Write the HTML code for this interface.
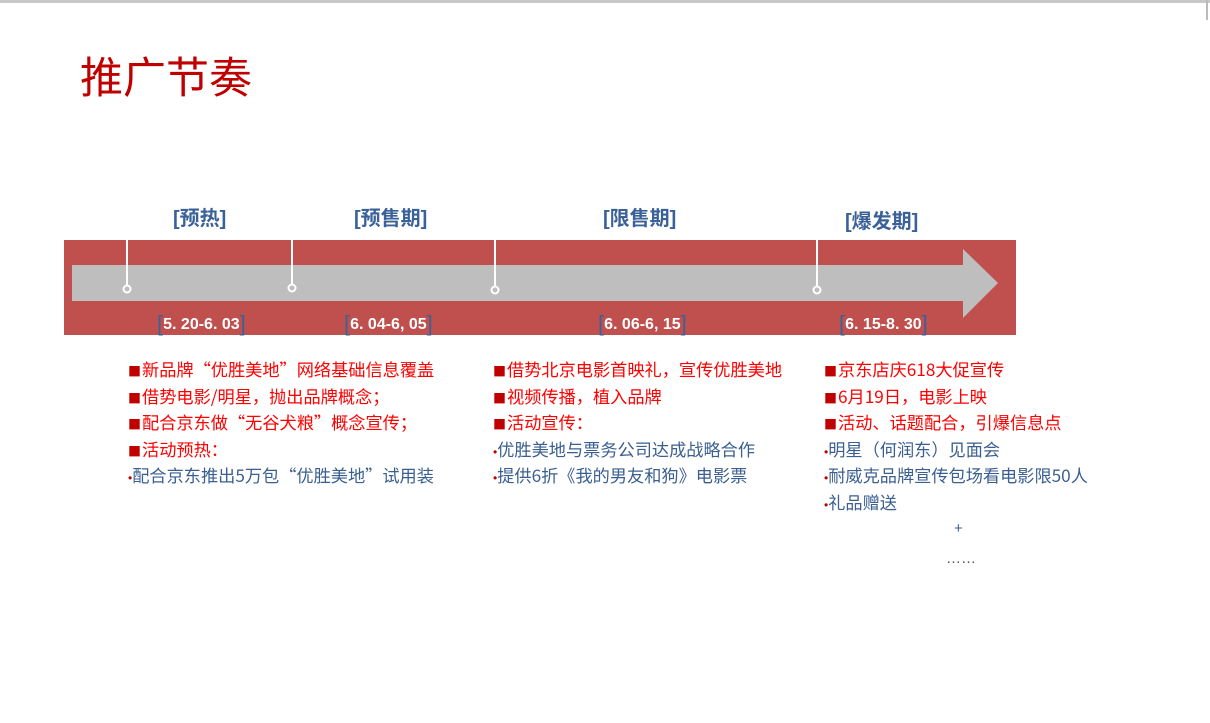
<!DOCTYPE html>
<html><head><meta charset="utf-8"><style>
body{margin:0;width:1210px;height:723px;background:#fff;position:relative;overflow:hidden;font-family:"Liberation Sans","Noto Sans CJK SC",sans-serif}
.a{position:absolute;white-space:nowrap}
.h{color:#3a6298;font-weight:bold;font-size:20px}
.d{color:#fff;font-weight:bold;font-size:16px}
.d b{color:#3a6298;font-size:22px;font-weight:normal;vertical-align:-2px}
.l{font-size:17.2px;line-height:26.6px;font-family:"Noto Sans CJK SC",sans-serif}
.l div{height:26.6px;overflow:visible}
.r{color:#f00}.r:before{content:"■";color:#c00000;font-size:13px;margin-right:1px;line-height:10px}
.u{color:#3a5f90}.u:before{content:"•";color:#c00000;font-size:12px;font-family:"Liberation Sans",sans-serif;line-height:10px}
</style></head><body>
<div class="a" style="left:0;top:0;width:1210px;height:3px;background:#c8c8c8"></div>
<div class="a" style="left:1206px;top:0;width:2px;height:20px;background:#bbb"></div>
<div class="a" style="left:80px;top:44px;font-size:43px;color:#c00000">推广节奏</div>
<div class="a h" style="left:173px;top:202px">[预热]</div>
<div class="a h" style="left:354px;top:202px">[预售期]</div>
<div class="a h" style="left:603px;top:202px">[限售期]</div>
<div class="a h" style="left:845px;top:205px">[爆发期]</div>
<svg class="a" style="left:0;top:0" width="1210" height="723">
<rect x="64" y="240" width="952" height="95" fill="#c0504d"/>
<polygon points="72,265 963,265 963,249 998,283 963,318 963,301 72,301" fill="#bebebe"/>
<g stroke="#fff" stroke-width="2" fill="#bebebe">
<line x1="127" y1="240" x2="127" y2="286"/><circle cx="127" cy="289" r="3.5"/>
<line x1="292" y1="240" x2="292" y2="284"/><circle cx="292" cy="288" r="3.5"/>
<line x1="495" y1="240" x2="495" y2="286"/><circle cx="495" cy="290" r="3.5"/>
<line x1="817" y1="240" x2="817" y2="286"/><circle cx="817" cy="290" r="3.5"/>
</g></svg>
<div class="a d" style="left:157px;top:311px"><b>[</b>5. 20-6. 03<b>]</b></div>
<div class="a d" style="left:344px;top:311px"><b>[</b>6. 04-6, 05<b>]</b></div>
<div class="a d" style="left:598px;top:311px"><b>[</b>6. 06-6, 15<b>]</b></div>
<div class="a d" style="left:839px;top:311px"><b>[</b>6. 15-8. 30<b>]</b></div>
<div class="a l" style="left:128px;top:356px">
<div class="r">新品牌“优胜美地”网络基础信息覆盖</div>
<div class="r">借势电影/明星，抛出品牌概念；</div>
<div class="r">配合京东做“无谷犬粮”概念宣传；</div>
<div class="r">活动预热：</div>
<div class="u">配合京东推出5万包“优胜美地”试用装</div></div>
<div class="a l" style="left:493px;top:356px">
<div class="r">借势北京电影首映礼，宣传优胜美地</div>
<div class="r">视频传播，植入品牌</div>
<div class="r">活动宣传：</div>
<div class="u">优胜美地与票务公司达成战略合作</div>
<div class="u">提供6折《我的男友和狗》电影票</div></div>
<div class="a l" style="left:824px;top:356px">
<div class="r">京东店庆618大促宣传</div>
<div class="r">6月19日，电影上映</div>
<div class="r">活动、话题配合，引爆信息点</div>
<div class="u">明星（何润东）见面会</div>
<div class="u">耐威克品牌宣传包场看电影限50人</div>
<div class="u">礼品赠送</div></div>
<div class="a" style="left:954px;top:520px;color:#3a5f90;font-size:15px">+</div>
<div class="a" style="left:946px;top:550px;color:#555;font-size:15px">……</div>
</body></html>
